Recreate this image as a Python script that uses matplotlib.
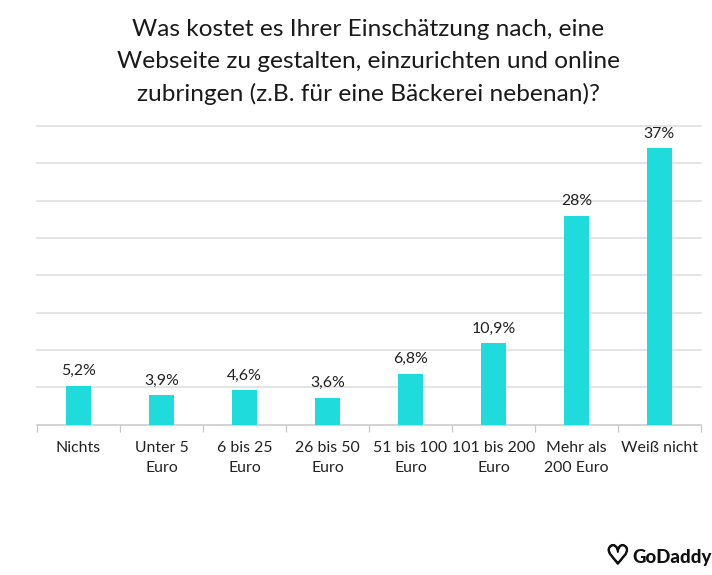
import matplotlib
matplotlib.use("Agg")
import matplotlib.pyplot as plt
import matplotlib.patheffects as pe

plt.rcParams["font.family"] = ["Lato", "DejaVu Sans"]

categories = ["Nichts", "Unter 5\nEuro", "6 bis 25\nEuro", "26 bis 50\nEuro",
              "51 bis 100\nEuro", "101 bis 200\nEuro", "Mehr als\n200 Euro", "Weiß nicht"]
values = [5.2, 3.9, 4.6, 3.6, 6.8, 10.9, 28, 37]
value_labels = ["5,2%", "3,9%", "4,6%", "3,6%", "6,8%", "10,9%", "28%", "37%"]
gridlines = [5, 10, 15, 20, 25, 30, 35, 40]
title = ("Was kostet es Ihrer Einschätzung nach, eine\n"
         "Webseite zu gestalten, einzurichten und online\n"
         "zubringen (z.B. für eine Bäckerei nebenan)?")

W, H = 712, 575
fig = plt.figure(figsize=(W / 100, H / 100), dpi=100)
ax = fig.add_axes([37 / W, 1 - 424.5 / H, 664 / W, 298.5 / H])

x = range(len(values))
ax.bar(x, values, width=0.31, color="#1fdbdc", zorder=3)
ax.set_xlim(-0.5, 7.5)
ax.set_ylim(0, 40)

# light grid, no spines except the baseline
for g in gridlines:
    ax.axhline(g, color="#dcdcdc", lw=1.1, zorder=1, clip_on=False)
for s in ["top", "left", "right"]:
    ax.spines[s].set_visible(False)
ax.spines["bottom"].set_color("#c8c8c8")
ax.spines["bottom"].set_linewidth(1.1)

ax.set_yticks([])
ax.set_xticks([i - 0.5 for i in range(9)])
ax.set_xticklabels([])
ax.tick_params(axis="x", length=5, width=0.9, color="#c8c8c8", direction="out")
for i, c in enumerate(categories):
    ax.annotate(c, (i, 0), xytext=(0, -12.2), textcoords="offset points", ha="center", va="top",
                fontsize=11.4, color="#222222", linespacing=1.55, annotation_clip=False)
for i, (v, lab) in enumerate(zip(values, value_labels)):
    ax.annotate(lab, (i, v), xytext=(0, 5.5), textcoords="offset points", ha="center", va="bottom",
                fontsize=11.4, color="#222222", zorder=5, annotation_clip=False)

fig.text(368.5 / W, 1 - 62 / H, title, ha="center", va="center", fontsize=17.6,
         color="#1a1a1a", linespacing=1.6)

# logo
fig.text(606 / W, 1 - 557 / H, "\u2661", ha="left", va="center", fontsize=19,
         family=["DejaVu Sans"], color="#111111",
         path_effects=[pe.withStroke(linewidth=1.3, foreground="#111111")])
fig.text(632 / W, 1 - 558 / H, "GoDaddy", ha="left", va="center", fontsize=13.4,
         fontweight="black", color="#111111")

fig.savefig("out.png", dpi=100)
